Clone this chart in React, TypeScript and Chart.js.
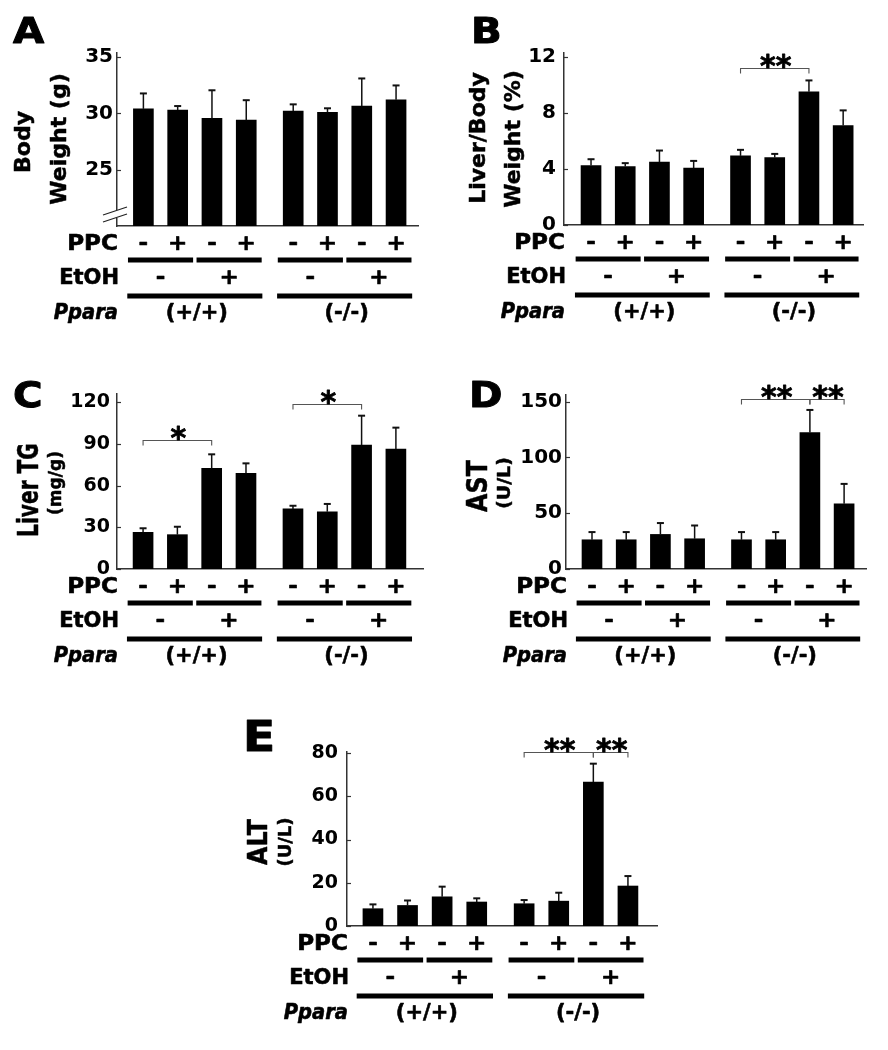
import { useEffect, useRef } from 'react';
import { Chart, registerables } from 'chart.js';

Chart.register(...registerables);

const FONT = '"DejaVu Sans", "Liberation Sans", sans-serif';

// ---------- data ----------
const barX = [0, 1, 2, 3, 4.37, 5.37, 6.37, 7.37];
const ppcSigns = ['-', '+', '-', '+', '-', '+', '-', '+'];
const etohSigns = ['-', '+', '-', '+'];
const pparaGroups = ['(+/+)', '(-/-)'];
const rowLabels = ['PPC', 'EtOH', 'Ppara'];

const bodyWeight = [30.4, 30.3, 29.55, 29.4, 30.2, 30.1, 30.65, 31.2];
const bodyWeightErr = [1.37, 0.35, 2.5, 1.77, 0.6, 0.35, 2.45, 1.28];
const bodyWeightTicks = [25, 30, 35];

const liverBody = [4.25, 4.18, 4.49, 4.06, 4.94, 4.82, 9.52, 7.11];
const liverBodyErr = [0.45, 0.24, 0.83, 0.52, 0.43, 0.26, 0.81, 1.08];
const liverBodyTicks = [0, 4, 8, 12];

const liverTG = [26.4, 24.7, 72.4, 68.8, 43.2, 41.2, 89.2, 86.3];
const liverTGErr = [2.9, 5.7, 10.1, 7.2, 2.3, 5.6, 21.1, 15.4];
const liverTGTicks = [0, 30, 60, 90, 120];

const ast = [26.2, 26.2, 31, 27.1, 26.2, 26.2, 122.3, 58.5];
const astErr = [6.9, 6.9, 10.2, 11.9, 6.9, 6.9, 20.3, 17.8];
const astTicks = [0, 50, 100, 150];

const alt = [8.0, 9.5, 13.5, 11.1, 10.3, 11.5, 66.6, 18.5];
const altErr = [2.0, 2.3, 4.7, 1.7, 1.7, 3.9, 8.5, 4.6];
const altTicks = [0, 20, 40, 60, 80];

type Bracket = { from: number; to: number; y: number; label: string };
const bracketsB: Bracket[] = [{ from: 4, to: 6, y: 11.2, label: '**' }];
const bracketsC: Bracket[] = [
  { from: 0, to: 2, y: 93, label: '*' },
  { from: 4, to: 6, y: 118.8, label: '*' },
];
const bracketsD: Bracket[] = [
  { from: 4, to: 6, y: 152.7, label: '**' },
  { from: 6, to: 7, y: 152.7, label: '**' },
];
const bracketsE: Bracket[] = [
  { from: 4, to: 6, y: 80.3, label: '**' },
  { from: 6, to: 7, y: 80.3, label: '**' },
];

// ---------- layout ----------
type TitleLine = { text: string; size: number; x: number; y: number; sx: number };
interface PanelCfg {
  letter: string;
  letterX: number;
  letterBase: number;
  letterSize: number;
  canvas: { left: number; top: number; w: number; h: number };
  area: { l: number; r: number; t: number; b: number };
  xMin: number;
  xMax: number;
  yMin: number;
  yMax: number;
  ticks: number[];
  values: number[];
  errors: number[];
  brackets: Bracket[];
  titles: TitleLine[];
  tickSize: number;
  tickPad: number;
  breakMark?: boolean;
}

const Y_W = 45;

const panels: PanelCfg[] = [
  {
    letter: 'A', letterX: 13, letterBase: 43, letterSize: 36,
    canvas: { left: 0, top: 0, w: 444, h: 350 },
    area: { l: 117, r: 418, t: 53, b: 226 },
    xMin: -0.77, xMax: 8.01, yMin: 20, yMax: 35.36,
    ticks: bodyWeightTicks, values: bodyWeight, errors: bodyWeightErr, brackets: [],
    titles: [
      { text: 'Body', size: 22, x: 24, y: 142, sx: 1 },
      { text: 'Weight (g)', size: 22, x: 60, y: 139, sx: 1 },
    ],
    tickSize: 20, tickPad: 4, breakMark: true,
  },
  {
    letter: 'B', letterX: 471, letterBase: 43, letterSize: 36,
    canvas: { left: 444, top: 0, w: 444, h: 350 },
    area: { l: 564, r: 863, t: 53, b: 225 },
    xMin: -0.79, xMax: 7.95, yMin: 0, yMax: 12.29,
    ticks: liverBodyTicks, values: liverBody, errors: liverBodyErr, brackets: bracketsB,
    titles: [
      { text: 'Liver/Body', size: 22, x: 479, y: 138, sx: 1 },
      { text: 'Weight (%)', size: 22, x: 514, y: 139, sx: 1 },
    ],
    tickSize: 20, tickPad: 8,
  },
  {
    letter: 'C', letterX: 13, letterBase: 407, letterSize: 36,
    canvas: { left: 0, top: 355, w: 444, h: 360 },
    area: { l: 117, r: 423, t: 394, b: 569 },
    xMin: -0.76, xMax: 8.16, yMin: 0, yMax: 125.9,
    ticks: liverTGTicks, values: liverTG, errors: liverTGErr, brackets: bracketsC,
    titles: [
      { text: 'Liver TG', size: 28, x: 31, y: 490, sx: 0.72 },
      { text: '(mg/g)', size: 17, x: 57, y: 483, sx: 1 },
    ],
    tickSize: 19, tickPad: 7,
  },
  {
    letter: 'D', letterX: 469, letterBase: 407, letterSize: 36,
    canvas: { left: 444, top: 355, w: 444, h: 360 },
    area: { l: 566, r: 866, t: 395, b: 569 },
    xMin: -0.76, xMax: 8.01, yMin: 0, yMax: 156,
    ticks: astTicks, values: ast, errors: astErr, brackets: bracketsD,
    titles: [
      { text: 'AST', size: 28, x: 480, y: 486, sx: 0.85 },
      { text: '(U/L)', size: 18, x: 505, y: 483, sx: 1.05 },
    ],
    tickSize: 20, tickPad: 4,
  },
  {
    letter: 'E', letterX: 243, letterBase: 751, letterSize: 42,
    canvas: { left: 220, top: 712, w: 460, h: 335 },
    area: { l: 347, r: 657, t: 752, b: 926 },
    xMin: -0.75, xMax: 8.21, yMin: 0, yMax: 80.5,
    ticks: altTicks, values: alt, errors: altErr, brackets: bracketsE,
    titles: [
      { text: 'ALT', size: 27, x: 260, y: 842, sx: 0.88 },
      { text: '(U/L)', size: 18, x: 286, y: 842, sx: 1 },
    ],
    tickSize: 19, tickPad: 9,
  },
];

// row offsets below the x axis
const ROW_PPC = 19;
const ROW_LINE1 = 34;
const ROW_ETOH = 53;
const ROW_LINE2 = 70;
const ROW_PPARA = 88;

function txt(
  ctx: CanvasRenderingContext2D,
  s: string,
  x: number,
  y: number,
  font: string,
  align: CanvasTextAlign,
  baseline: CanvasTextBaseline,
  sx = 1,
  rot = 0,
  heavy = 0,
) {
  ctx.save();
  ctx.translate(x, y);
  if (rot) ctx.rotate(rot);
  ctx.scale(sx, 1);
  ctx.font = font;
  ctx.textAlign = align;
  ctx.textBaseline = baseline;
  ctx.fillStyle = '#000';
  ctx.fillText(s, 0, 0);
  if (heavy > 0) {
    ctx.strokeStyle = '#000';
    ctx.lineWidth = heavy;
    ctx.lineJoin = 'round';
    ctx.strokeText(s, 0, 0);
  }
  ctx.restore();
}

function seg(ctx: CanvasRenderingContext2D, x1: number, y1: number, x2: number, y2: number) {
  ctx.beginPath();
  ctx.moveTo(x1, y1);
  ctx.lineTo(x2, y2);
  ctx.stroke();
}

function makePlugin(cfg: PanelCfg) {
  return {
    id: 'annot' + cfg.letter,
    afterDraw(chart: any) {
      const ctx: CanvasRenderingContext2D = chart.ctx;
      const xs = chart.scales.x;
      const ys = chart.scales.y;
      const area = chart.chartArea;
      const ox = cfg.canvas.left;
      const oy = cfg.canvas.top;
      const L = area.left;
      const B = area.bottom;
      ctx.save();

      // inward tick marks
      ctx.strokeStyle = '#333';
      ctx.lineWidth = 1.2;
      for (const v of cfg.ticks) {
        const py = Math.round(ys.getPixelForValue(v)) + 0.5;
        seg(ctx, L, py, L + 4, py);
      }

      // axis break
      if (cfg.breakMark) {
        const y1 = B - 15;
        const y2 = B - 8;
        ctx.fillStyle = '#fff';
        ctx.fillRect(L - 2, y1 - 1, 4, y2 - y1 + 1);
        ctx.strokeStyle = '#222';
        ctx.lineWidth = 1.3;
        seg(ctx, L - 14, y1 + 4, L + 10, y1 - 4);
        seg(ctx, L - 14, y2 + 4, L + 10, y2 - 4);
      }

      // error bars
      const meta = chart.getDatasetMeta(0);
      meta.data.forEach((el: any, i: number) => {
        const x = el.x;
        const y0 = ys.getPixelForValue(cfg.values[i]);
        const y1 = ys.getPixelForValue(cfg.values[i] + cfg.errors[i]);
        ctx.strokeStyle = '#111';
        ctx.lineWidth = 1.5;
        seg(ctx, x, y0, x, y1);
        ctx.lineWidth = 2;
        seg(ctx, x - 3.5, y1, x + 3.5, y1);
      });

      // significance brackets
      for (const br of cfg.brackets) {
        const x1 = xs.getPixelForValue(barX[br.from]);
        const x2 = xs.getPixelForValue(barX[br.to]);
        const y = Math.round(ys.getPixelForValue(br.y)) + 0.5;
        ctx.strokeStyle = '#555';
        ctx.lineWidth = 1.1;
        ctx.beginPath();
        ctx.moveTo(x1, y + 5);
        ctx.lineTo(x1, y);
        ctx.lineTo(x2, y);
        ctx.lineTo(x2, y + 5);
        ctx.stroke();
        const size = 30;
        txt(ctx, br.label, (x1 + x2) / 2 + 1, y - 8.5 + 0.54 * size, `bold ${size}px ${FONT}`, 'center', 'alphabetic', 1, 0, 0.8);
      }

      // treatment rows
      const rowFont = `bold 21px ${FONT}`;
      const labX = L + 1;
      txt(ctx, rowLabels[0], labX, B + ROW_PPC, rowFont, 'right', 'middle', 1.1, 0, 0.6);
      txt(ctx, rowLabels[1], labX + 1, B + ROW_ETOH, rowFont, 'right', 'middle', 1, 0, 0.6);
      txt(ctx, rowLabels[2], labX, B + ROW_PPARA, `italic bold 21px ${FONT}`, 'right', 'middle', 0.93, 0, 0.6);

      ppcSigns.forEach((s, i) => {
        txt(ctx, s, xs.getPixelForValue(barX[i]), B + ROW_PPC, rowFont, 'center', 'middle', 1.1, 0, 0.6);
      });
      for (let k = 0; k < 4; k++) {
        const a = xs.getPixelForValue(barX[2 * k] - 0.45);
        const b = xs.getPixelForValue(barX[2 * k + 1] + 0.45);
        ctx.fillStyle = '#000';
        ctx.fillRect(a, B + ROW_LINE1 - 2.5, b - a, 5);
        const mid = (xs.getPixelForValue(barX[2 * k]) + xs.getPixelForValue(barX[2 * k + 1])) / 2;
        txt(ctx, etohSigns[k], mid, B + ROW_ETOH, rowFont, 'center', 'middle', 1.1, 0, 0.6);
      }
      for (let g = 0; g < 2; g++) {
        const a = xs.getPixelForValue(barX[4 * g] - 0.47);
        const b = xs.getPixelForValue(barX[4 * g + 3] + 0.47);
        ctx.fillStyle = '#000';
        ctx.fillRect(a, B + ROW_LINE2 - 2.5, b - a, 5);
        const mid = (xs.getPixelForValue(barX[4 * g]) + xs.getPixelForValue(barX[4 * g + 3])) / 2;
        txt(ctx, pparaGroups[g], mid + 2, B + ROW_PPARA, rowFont, 'center', 'middle', 1, 0, 0.6);
      }

      // y titles (rotated)
      for (const t of cfg.titles) {
        txt(ctx, t.text, t.x - ox, t.y - oy, `bold ${t.size}px ${FONT}`, 'center', 'middle', t.sx, -Math.PI / 2, 0.5);
      }

      // panel letter
      txt(ctx, cfg.letter, cfg.letterX - ox, cfg.letterBase - oy, `bold ${cfg.letterSize}px ${FONT}`, 'left', 'alphabetic', 1.12, 0, 1);

      ctx.restore();
    },
  };
}

function Panel({ cfg }: { cfg: PanelCfg }) {
  const ref = useRef<HTMLCanvasElement>(null);
  useEffect(() => {
    const c = cfg.canvas;
    const a = cfg.area;
    const chart = new Chart(ref.current as HTMLCanvasElement, {
      type: 'bar',
      data: {
        datasets: [
          {
            data: barX.map((x, i) => ({ x, y: cfg.values[i] })),
            backgroundColor: '#000',
            borderWidth: 0,
            barThickness: 20,
          } as any,
        ],
      },
      options: {
        animation: false,
        responsive: false,
        maintainAspectRatio: false,
        layout: {
          padding: {
            left: a.l - c.left - Y_W,
            right: c.left + c.w - a.r,
            top: a.t - c.top,
            bottom: c.top + c.h - a.b,
          },
        },
        plugins: { legend: { display: false }, tooltip: { enabled: false } },
        scales: {
          x: {
            type: 'linear',
            offset: false,
            min: cfg.xMin,
            max: cfg.xMax,
            grid: { display: false, drawTicks: false, offset: false },
            border: { display: true, color: '#333', width: 1.5 },
            ticks: { display: false },
            afterFit: (s: any) => {
              s.height = 0;
            },
          },
          y: {
            type: 'linear',
            min: cfg.yMin,
            max: cfg.yMax,
            grid: { display: false, drawTicks: false },
            border: { display: true, color: '#333', width: 1.5 },
            ticks: {
              color: '#000',
              padding: cfg.tickPad,
              font: { family: FONT, size: cfg.tickSize, weight: 'bold' },
            },
            afterBuildTicks: (axis: any) => {
              axis.ticks = cfg.ticks.map((v) => ({ value: v }));
            },
            afterFit: (s: any) => {
              s.width = Y_W;
            },
          },
        },
      } as any,
      plugins: [makePlugin(cfg)],
    });
    return () => chart.destroy();
  }, [cfg]);
  return (
    <canvas
      ref={ref}
      width={cfg.canvas.w}
      height={cfg.canvas.h}
      style={{
        position: 'absolute',
        left: cfg.canvas.left,
        top: cfg.canvas.top,
        width: cfg.canvas.w,
        height: cfg.canvas.h,
      }}
    />
  );
}

export default function App() {
  return (
    <div
      style={{
        position: 'absolute',
        left: 0,
        top: 0,
        width: 888,
        height: 1050,
        background: '#fff',
        overflow: 'hidden',
      }}
    >
      {panels.map((p) => (
        <Panel key={p.letter} cfg={p} />
      ))}
    </div>
  );
}
